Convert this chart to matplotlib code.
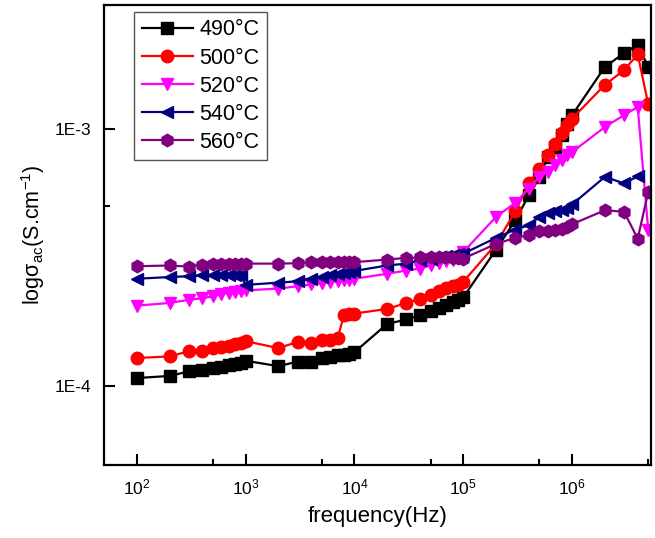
import matplotlib
matplotlib.use("Agg")
import matplotlib.pyplot as plt
from matplotlib.ticker import FixedLocator, FuncFormatter, NullFormatter

plt.rcParams['font.family'] = ['Liberation Sans', 'DejaVu Sans']
plt.rcParams['mathtext.fontset'] = 'custom'
plt.rcParams['mathtext.rm'] = 'Liberation Sans'
plt.rcParams['mathtext.it'] = 'Liberation Sans:italic'
plt.rcParams['mathtext.bf'] = 'Liberation Sans:bold'

freq = [100, 200, 300, 400, 500, 600, 700, 800, 900, 1000,
        2000, 3000, 4000, 5000, 6000, 7000, 8000, 9000, 10000,
        20000, 30000, 40000, 50000, 60000, 70000, 80000, 90000, 100000,
        200000, 300000, 400000, 500000, 600000, 700000, 800000, 900000, 1000000,
        2000000, 3000000, 4000000, 5000000]

s490 = [1.07e-4, 1.09e-4, 1.135e-4, 1.145e-4, 1.17e-4, 1.18e-4, 1.20e-4, 1.215e-4, 1.23e-4, 1.25e-4,
        1.19e-4, 1.24e-4, 1.24e-4, 1.28e-4, 1.29e-4, 1.31e-4, 1.32e-4, 1.33e-4, 1.35e-4,
        1.74e-4, 1.81e-4, 1.88e-4, 1.95e-4, 2.01e-4, 2.07e-4, 2.11e-4, 2.15e-4, 2.21e-4,
        3.39e-4, 4.41e-4, 5.52e-4, 6.52e-4, 7.80e-4, 8.53e-4, 9.47e-4, 1.05e-3, 1.135e-3,
        1.75e-3, 1.98e-3, 2.13e-3, 1.75e-3]

s500 = [1.28e-4, 1.30e-4, 1.36e-4, 1.36e-4, 1.40e-4, 1.41e-4, 1.43e-4, 1.45e-4, 1.46e-4, 1.49e-4,
        1.40e-4, 1.48e-4, 1.47e-4, 1.51e-4, 1.51e-4, 1.53e-4, 1.88e-4, 1.90e-4, 1.91e-4,
        1.99e-4, 2.10e-4, 2.18e-4, 2.25e-4, 2.34e-4, 2.40e-4, 2.44e-4, 2.47e-4, 2.54e-4,
        3.57e-4, 4.78e-4, 6.14e-4, 7.02e-4, 7.91e-4, 8.78e-4, 9.62e-4, 1.04e-3, 1.10e-3,
        1.49e-3, 1.70e-3, 1.96e-3, 1.25e-3]

s520 = [2.05e-4, 2.10e-4, 2.16e-4, 2.19e-4, 2.23e-4, 2.27e-4, 2.30e-4, 2.32e-4, 2.34e-4, 2.35e-4,
        2.39e-4, 2.44e-4, 2.48e-4, 2.51e-4, 2.53e-4, 2.55e-4, 2.57e-4, 2.58e-4, 2.61e-4,
        2.73e-4, 2.81e-4, 2.86e-4, 2.94e-4, 3.00e-4, 3.05e-4, 3.10e-4, 3.17e-4, 3.32e-4,
        4.55e-4, 5.16e-4, 5.86e-4, 6.52e-4, 6.81e-4, 7.23e-4, 7.61e-4, 7.91e-4, 8.15e-4,
        1.02e-3, 1.135e-3, 1.22e-3, 4.03e-4]

freq540 = freq[:-1]
s540 = [2.61e-4, 2.65e-4, 2.67e-4, 2.69e-4, 2.70e-4, 2.71e-4, 2.71e-4, 2.70e-4, 2.69e-4, 2.47e-4,
        2.52e-4, 2.55e-4, 2.61e-4, 2.65e-4, 2.69e-4, 2.73e-4, 2.75e-4, 2.77e-4, 2.80e-4,
        2.94e-4, 2.99e-4, 3.08e-4, 3.13e-4, 3.17e-4, 3.19e-4, 3.22e-4, 3.25e-4, 3.27e-4,
        3.77e-4, 4.06e-4, 4.22e-4, 4.55e-4, 4.69e-4, 4.78e-4, 4.85e-4, 4.92e-4, 5.09e-4,
        6.52e-4, 6.14e-4, 6.55e-4]

s560 = [2.92e-4, 2.94e-4, 2.91e-4, 2.96e-4, 2.98e-4, 2.99e-4, 2.99e-4, 2.99e-4, 2.99e-4, 2.99e-4,
        2.99e-4, 3.00e-4, 3.03e-4, 3.03e-4, 3.03e-4, 3.03e-4, 3.03e-4, 3.03e-4, 3.03e-4,
        3.10e-4, 3.15e-4, 3.16e-4, 3.17e-4, 3.17e-4, 3.16e-4, 3.15e-4, 3.15e-4, 3.13e-4,
        3.57e-4, 3.77e-4, 3.86e-4, 4.01e-4, 4.01e-4, 4.03e-4, 4.09e-4, 4.14e-4, 4.26e-4,
        4.83e-4, 4.76e-4, 3.74e-4, 5.69e-4]

labels = ['490°C', '500°C', '520°C', '540°C', '560°C']
colors = ['#000000', '#FF0000', '#FF00FF', '#000080', '#800080']
markers = ['s', 'o', 'v', '<', 'h']
xs = [freq, freq, freq, freq540, freq]
ys = [s490, s500, s520, s540, s560]
msizes = [8, 9, 9, 9, 9]

fig = plt.figure(figsize=(6.55, 5.38), dpi=100)
ax = fig.add_axes([0.1588, 0.1357, 0.8351, 0.855])

for x, y, c, m, lab, ms in zip(xs, ys, colors, markers, labels, msizes):
    ax.plot(x, y, color=c, marker=m, markersize=ms, linewidth=1.6, label=lab,
            markeredgecolor=c, markerfacecolor=c)

ax.set_xscale('log')
ax.set_yscale('log')
ax.set_xlim(50, 5.3e6)
ax.set_ylim(4.9e-5, 3.05e-3)

ax.xaxis.set_major_locator(FixedLocator([1e2, 1e3, 1e4, 1e5, 1e6]))
ax.xaxis.set_minor_locator(FixedLocator([5e2, 5e3, 5e4, 5e5, 5e6]))
ax.xaxis.set_minor_formatter(NullFormatter())
ax.yaxis.set_major_locator(FixedLocator([1e-4, 1e-3]))
ax.yaxis.set_minor_locator(FixedLocator([5e-4]))
ax.yaxis.set_minor_formatter(NullFormatter())
ax.yaxis.set_major_formatter(FuncFormatter(lambda v, p: {1e-4: '1E-4', 1e-3: '1E-3'}.get(v, '')))

ax.tick_params(which='major', direction='in', length=8, width=1.5, labelsize=12.5,
               top=False, right=False)
ax.tick_params(which='minor', direction='in', length=4, width=1.5, top=False, right=False)
ax.tick_params(axis='x', pad=9)
ax.tick_params(axis='y', pad=9)
for sp in ax.spines.values():
    sp.set_linewidth(1.6)

ax.set_xlabel('frequency(Hz)', fontsize=16, labelpad=6)
ax.set_ylabel(r'logσ$_{\mathrm{ac}}$(S.cm$^{-1}$)', fontsize=15.5, labelpad=6)

leg = ax.legend(loc='upper left', bbox_to_anchor=(0.055, 0.985), fontsize=15.5,
                frameon=True, fancybox=False, edgecolor='#555555', framealpha=1,
                handlelength=2.4, handletextpad=0.28, labelspacing=0.33,
                borderpad=0.35, borderaxespad=0)
leg.get_frame().set_linewidth(1.0)

fig.savefig('out.png', dpi=100)
